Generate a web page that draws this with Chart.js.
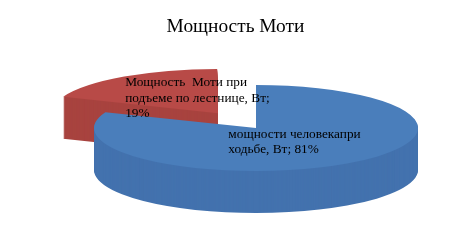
<!DOCTYPE html>
<html>
<head>
<meta charset="utf-8">
<script src="https://cdn.jsdelivr.net/npm/chart.js@4.4.1/dist/chart.umd.min.js"></script>
<style>
  html, body { margin: 0; padding: 0; background: #fff; }
  #wrap { width: 471px; height: 246px; }
</style>
</head>
<body>
<div id="wrap"><canvas id="pieChart" width="471" height="246"></canvas></div>
<script>
// ===== DATA =====
const chartTitle = 'Мощность Моти';
const categories = ['мощности человекапри ходьбе, Вт', 'Мощность  Моти при подъеме по лестнице, Вт'];
const values = [81, 19];
const topColors = ['#4a7ebb', '#b84a47'];
const sideColors = ['#4372ae', '#a8433f'];

// 3D look: where the tilted pie sits on the canvas
const CX = 256, CY = 128, RX = 162, RY = 43, DEPTH = 42;
const LABEL_FONT = '13.3px "Liberation Serif", "Times New Roman", serif';
const LABEL_WIDTH = 162;
// small shifts of each label from its slice centre (blue, red)
const LABEL_NUDGE = [[-7, -4], [63, 18]];

function wrapText(ctx, text, maxWidth) {
    const words = text.split(' ');
    const lines = [];
    let line = '';
    words.forEach(w => {
        const test = line === '' ? w : line + ' ' + w;
        if (line !== '' && ctx.measureText(test).width > maxWidth && w !== '') {
            lines.push(line);
            line = w;
        } else {
            line = test;
        }
    });
    if (line) lines.push(line);
    return lines;
}

const pie3d = {
    id: 'pie3d',
    beforeDatasetsDraw(chart) {
        const ctx = chart.ctx;
        const arcs = chart.getDatasetMeta(0).data;
        const r = arcs[0].outerRadius;
        const project = (a, d) => {
            ctx.translate(CX, CY + d);
            ctx.scale(RX / r, RY / r);
            ctx.translate(-a.x, -a.y);
        };
        // back slice first, then the front one
        [1, 0].forEach(i => {
            const a = arcs[i];
            const opts = a.options;
            a.options = Object.assign({}, opts, { backgroundColor: sideColors[i] });
            for (let d = DEPTH; d > 0; d--) {
                ctx.save(); project(a, d); a.draw(ctx); ctx.restore();
            }
            a.options = opts;
            ctx.save(); project(a, 0); a.draw(ctx); ctx.restore();
        });
        return false;
    },
    afterDraw(chart) {
        const ctx = chart.ctx;
        const arcs = chart.getDatasetMeta(0).data;
        const r = arcs[0].outerRadius;
        const total = values.reduce((s, v) => s + v, 0);
        ctx.save();
        ctx.font = LABEL_FONT;
        ctx.fillStyle = '#000';
        ctx.textBaseline = 'middle';
        ctx.textAlign = 'left';
        arcs.forEach((a, i) => {
            const p = a.tooltipPosition();
            const x = CX + (p.x - a.x) * RX / r + LABEL_NUDGE[i][0];
            const y = CY + (p.y - a.y) * RY / r + LABEL_NUDGE[i][1];
            const text = categories[i] + '; ' + Math.round(values[i] / total * 100) + '%';
            const lines = wrapText(ctx, text, LABEL_WIDTH);
            const w = Math.max(...lines.map(l => ctx.measureText(l).width));
            const lh = 15.5;
            const top = y - (lines.length - 1) * lh / 2;
            lines.forEach((l, k) => ctx.fillText(l, x - w / 2, top + k * lh));
        });
        ctx.restore();
    }
};

const ctx = document.getElementById('pieChart').getContext('2d');
new Chart(ctx, {
    type: 'pie',
    data: {
        labels: categories,
        datasets: [{
            data: values,
            backgroundColor: topColors,
            borderWidth: 0,
            offset: [0, 90]
        }]
    },
    options: {
        responsive: false,
        animation: false,
        layout: { padding: 0 },
        plugins: {
            legend: { display: false },
            tooltip: { enabled: false },
            title: {
                display: true,
                text: chartTitle,
                color: '#000',
                font: { family: '"Liberation Serif", "Times New Roman", serif', size: 19.4, weight: 'normal' },
                padding: { top: 15, bottom: 10 }
            }
        }
    },
    plugins: [pie3d]
});
</script>
</body>
</html>
